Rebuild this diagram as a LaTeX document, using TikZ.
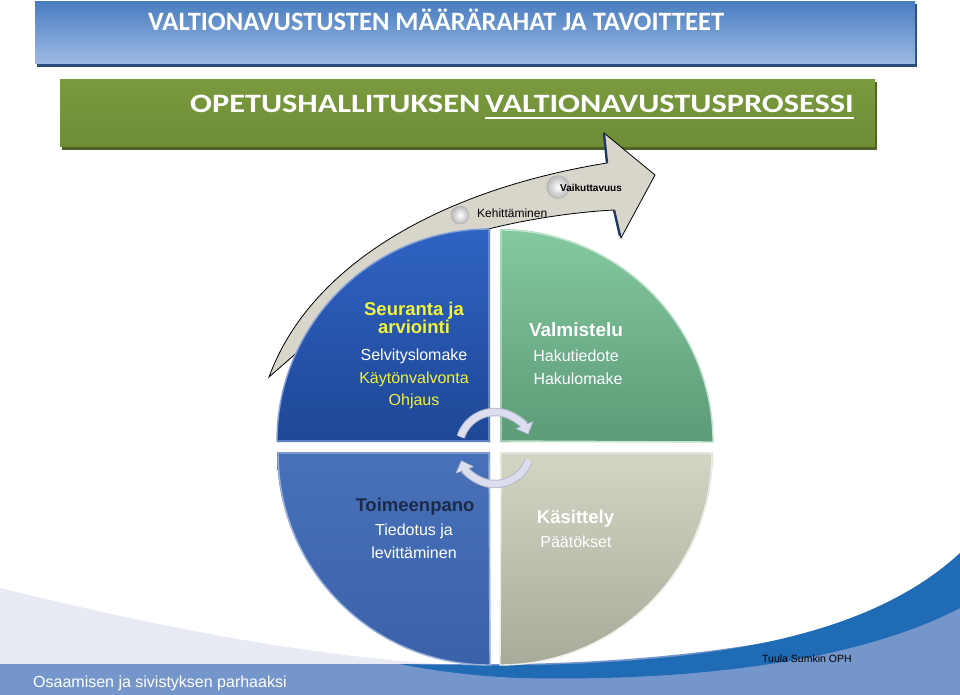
\documentclass[tikz,border=0pt]{standalone}
\usepackage{fontspec}
\setmainfont{Liberation Sans}
\newfontfamily\calibrifont{Carlito}
\usetikzlibrary{arrows.meta}
\definecolor{bannerA}{HTML}{4A7DC0}
\definecolor{bannerB}{HTML}{5286C6}
\definecolor{bannerC}{HTML}{9DBBE3}
\definecolor{bannerShadow}{HTML}{2C4D7C}
\definecolor{greenA}{HTML}{7A9A3E}
\definecolor{greenB}{HTML}{8FAE4F}
\definecolor{greenC}{HTML}{6F8C37}
\definecolor{greenShadow}{HTML}{4E6327}
\definecolor{lavbg}{HTML}{E8EAF4}
\definecolor{bandblue}{HTML}{7596CB}
\definecolor{darkswoosh}{HTML}{1F6BB5}
\definecolor{arrowgray}{HTML}{D8D5CB}
\definecolor{arrownavy}{HTML}{1F3864}
\definecolor{tlTop}{HTML}{2F63C2}
\definecolor{tlBot}{HTML}{1E4796}
\definecolor{trTop}{HTML}{84C9A0}
\definecolor{trBot}{HTML}{5C9B77}
\definecolor{blTop}{HTML}{4871B9}
\definecolor{blBot}{HTML}{3B61A9}
\definecolor{brTop}{HTML}{D4D6C5}
\definecolor{brBot}{HTML}{A8AA9A}
\definecolor{txtyellow}{HTML}{F2F23C}
\definecolor{txtnavy}{HTML}{1C2A4A}
\definecolor{cyccol}{HTML}{DCDDEE}
\definecolor{cycedge}{HTML}{B8BACF}
\begin{document}
\begin{tikzpicture}[x=1pt,y=1pt,
  ptext/.style={font=\fontsize{16}{19}\selectfont, text=white, inner sep=0pt, anchor=base},
  ptitle/.style={font=\bfseries\fontsize{18.5}{21}\selectfont, text=white, inner sep=0pt, anchor=base},
  headtext/.style={font=\calibrifont\bfseries\fontsize{26.5}{30}\selectfont, text=white, inner sep=0pt, anchor=base west},
  cycedgestyle/.style={draw=cycedge, line width=8.5pt, -{Triangle[length=10.5pt,width=19pt]}},
  cycarrow/.style={draw=cyccol, line width=6.5pt, -{Triangle[length=8.5pt,width=16pt]}},
  bubble/.style={inner color=white, outer color=gray!55, draw=gray!60, line width=0.4pt}
]
\useasboundingbox (0,0) rectangle (960,-695);
\fill[white] (0,0) rectangle (960,-695);

% ---- bottom background swooshes
\fill[lavbg] (0,-588) .. controls (150,-625) and (300,-655) .. (440,-664) -- (0,-664) -- cycle;
\fill[bandblue] (0,-664) -- (440,-664) .. controls (700,-668) and (860,-630) .. (960,-590) -- (960,-695) -- (0,-695) -- cycle;
\fill[darkswoosh] (400,-664) .. controls (680,-672) and (860,-645) .. (960,-553) -- (960,-608) .. controls (860,-660) and (700,-682) .. (520,-678) .. controls (470,-676) and (430,-670) .. (400,-664) -- cycle;

% ---- top banner
\fill[bannerShadow] (37,-4) rectangle (917,-67);
\shade[top color=bannerA, middle color=bannerB, bottom color=bannerC] (35,-2) rectangle (915,-64);
\node[headtext] (h1) at (148,-31) {VALTIONAVUSTUSTEN MÄÄRÄRAHAT JA TAVOITTEET};

% ---- green banner
\fill[greenShadow] (62,-82) rectangle (877,-150);
\shade[top color=greenA, middle color=greenB, bottom color=greenC] (60,-80) rectangle (875,-147);
\node[headtext] (h2a) at (190,-113) {\scalebox{1.22}[1]{OPETUSHALLITUKSEN}};
\node[headtext] (h2b) at (485,-113) {\scalebox{1.22}[1]{VALTIONAVUSTUSPROSESSI}};
\draw[white, line width=1.3pt] (h2b.base west) ++(0,-5) -- ([yshift=-5pt]h2b.base east);

% ---- curved arrow
\path[fill=arrowgray, draw=black, line width=0.8pt, line join=miter]
  (269,-377) .. controls (310,-265) and (440,-190) .. (607,-163)
  -- (604,-133) -- (655,-175) -- (621,-238) -- (614,-210)
  .. controls (520,-215) and (340,-250) .. (300,-350) -- cycle;
\draw[arrownavy, line width=2.4pt] (607,-163) -- (604,-134);
\draw[arrownavy, line width=2.4pt] (614,-210) -- (620,-236);
\shadedraw[bubble] (460,-215) circle (9);
\shadedraw[bubble] (558,-187) circle (11.5);
\node[font=\fontsize{12}{14}\selectfont, inner sep=0pt, anchor=base west] (keh) at (477,-217.5) {Kehittäminen};
\node[font=\bfseries\fontsize{10}{12}\selectfont, inner sep=0pt, anchor=base west] (vai) at (560,-191) {Vaikuttavuus};

% ---- pie quadrants
\shade[top color=tlTop, bottom color=tlBot, draw=none]
  (490,-442) -- (277,-442) arc[start angle=180, end angle=90, radius=213] -- cycle;
\draw[line width=1.4pt, color=tlTop!60!white] (277,-441) arc[start angle=180, end angle=90, radius=212] -- (489,-441) -- cycle;
\shade[top color=trTop, bottom color=trBot, draw=none]
  (500,-442) -- (500,-229) arc[start angle=90, end angle=0, radius=213] -- cycle;
\draw[line width=1.4pt, color=trTop!50!white] (501,-230) arc[start angle=90, end angle=0, radius=212] -- (501,-441) -- cycle;
\shade[top color=blTop, bottom color=blBot, draw=none]
  (490,-452) -- (277,-452) arc[start angle=180, end angle=270, radius=213] -- cycle;
\draw[line width=1.4pt, color=blTop!55!white] (278,-453) arc[start angle=180, end angle=270, radius=212] -- (489,-453) -- cycle;
\shade[top color=brTop, bottom color=brBot, draw=none]
  (500,-452) -- (713,-452) arc[start angle=0, end angle=-90, radius=213] -- cycle;
\draw[line width=1.4pt, color=brTop!40!white] (712,-453) arc[start angle=0, end angle=-90, radius=212] -- (501,-453) -- cycle;

% ---- centre cycle arrows
\draw[cycedgestyle] ([shift={(162:36)}]495,-448) arc[start angle=162, end angle=22, radius=36];
\draw[cycarrow] ([shift={(162:36)}]495,-448) arc[start angle=162, end angle=24, radius=36];
\draw[cycedgestyle] ([shift={(-20:36)}]495,-448) arc[start angle=-20, end angle=-160, radius=36];
\draw[cycarrow] ([shift={(-20:36)}]495,-448) arc[start angle=-20, end angle=-158, radius=36];

% ---- pie texts
\node[ptitle, text=txtyellow] (s1) at (414,-315.5) {Seuranta ja};
\node[ptitle, text=txtyellow] (s2) at (414,-333.5) {arviointi};
\node[ptext] (s3) at (414,-360) {Selvityslomake};
\node[ptext, text=txtyellow] (s4) at (414,-383) {Käytönvalvonta};
\node[ptext, text=txtyellow] (s5) at (414,-405) {Ohjaus};

\node[ptitle, font=\bfseries\fontsize{19}{22}\selectfont] (v1) at (576,-336) {Valmistelu};
\node[ptext] (v2) at (576,-361) {Hakutiedote};
\node[ptext] (v3) at (578,-384) {Hakulomake};

\node[ptitle, text=txtnavy] (t1) at (415,-511) {Toimeenpano};
\node[ptext] (t2) at (414,-535) {Tiedotus ja};
\node[ptext] (t3) at (414,-558) {levittäminen};

\node[ptitle] (k1) at (575.5,-523) {Käsittely};
\node[ptext] (k2) at (576,-547) {Päätökset};

% ---- footer texts
\node[font=\fontsize{16}{19}\selectfont, text=white, inner sep=0pt, anchor=base west] (foot) at (33,-687) {Osaamisen ja sivistyksen parhaaksi};
\node[font=\fontsize{10.5}{12}\selectfont, text=black, inner sep=0pt, anchor=base west] (auth) at (762,-662) {Tuula Sumkin OPH};
\end{tikzpicture}
\end{document}
